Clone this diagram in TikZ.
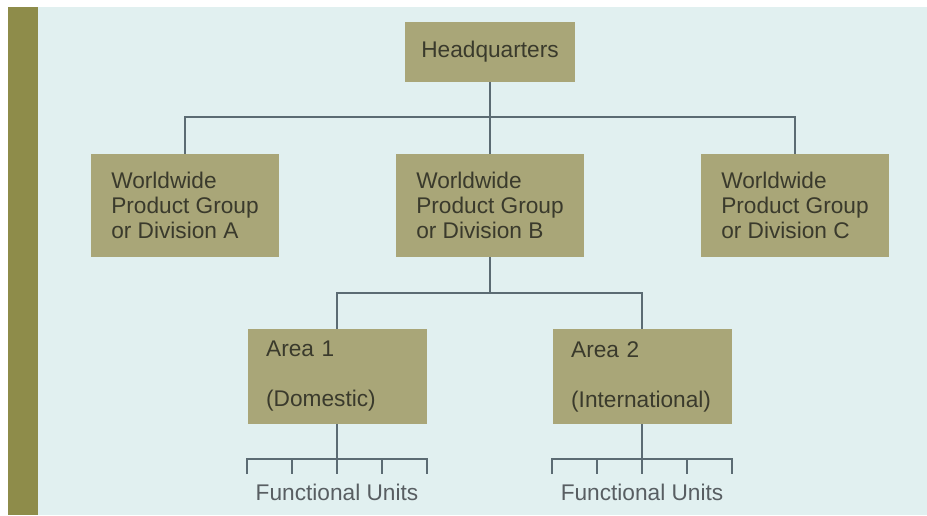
\documentclass[tikz,border=0pt]{standalone}
\usepackage{fontspec}
\setmainfont{Liberation Sans}
\definecolor{bgblue}{HTML}{E1F0F0}
\definecolor{barolive}{HTML}{8E8C4A}
\definecolor{boxolive}{HTML}{A9A678}
\definecolor{boxtext}{HTML}{3A3A2C}
\definecolor{linegrey}{HTML}{5B6B73}
\definecolor{futext}{HTML}{585E62}
\begin{document}
\begin{tikzpicture}[x=0.75pt,y=-0.75pt,
  orgbox/.style={fill=boxolive,draw=none,text=boxtext,font=\fontsize{17}{19}\selectfont,inner sep=0pt},
  divbox/.style={orgbox,minimum width=141pt,minimum height=77.25pt,align=left},
  areabox/.style={orgbox,minimum height=71.25pt,text width=106.25pt,inner xsep=14pt,align=left},
  conn/.style={draw=linegrey,line width=1.5pt},
  fulabel/.style={text=futext,font=\fontsize{17}{19}\selectfont,inner sep=0pt}]
\useasboundingbox (0,0) rectangle (927,515);
\fill[white] (0,0) rectangle (927,515);
\fill[bgblue] (38,7) rectangle (927,515);
\fill[barolive] (8,7) rectangle (38,515);

\node[orgbox,minimum width=127.5pt,minimum height=45pt] (hq) at (490,52) {Headquarters};
\node[divbox] (divA) at (185,205.5) {Worldwide\\Product Group\\or Division A};
\node[divbox] (divB) at (490,205.5) {Worldwide\\Product Group\\or Division B};
\node[divbox] (divC) at (795,205.5) {Worldwide\\Product Group\\or Division C};
\node[areabox] (ar1) at (337,376.5) {Area 1\\[18.5pt](Domestic)};
\node[areabox] (ar2) at (642,376.5) {Area 2\\[18.5pt](International)};

\coordinate (bus1) at (490,117);
\coordinate (bus2) at (490,293);
\draw[conn] (hq.south) -- (divB.north);
\draw[conn] (divA.north) -- (divA.north |- bus1) -- (divC.north |- bus1) -- (divC.north);
\draw[conn] (divB.south) -- (bus2);
\draw[conn] (ar1.north) -- (ar1.north |- bus2) -- (ar2.north |- bus2) -- (ar2.north);

% functional units under Area 1
\coordinate (fa) at (247,459);
\coordinate (fb) at (427,459);
\draw[conn] (ar1.south) -- (ar1.south |- fa);
\draw[conn] (fa) ++(0,15) coordinate (fat) -- (fa) -- (fb) -- ++(0,15) coordinate (fbt);
\foreach \xx in {292,337,382} \draw[conn] (\xx,459) -- (\xx,474);
\node[fulabel] (fu1) at (337,492) {Functional Units};

% functional units under Area 2
\coordinate (ga) at (552,459);
\coordinate (gb) at (732,459);
\draw[conn] (ar2.south) -- (ar2.south |- ga);
\draw[conn] (ga) ++(0,15) coordinate (gat) -- (ga) -- (gb) -- ++(0,15) coordinate (gbt);
\foreach \xx in {597,642,687} \draw[conn] (\xx,459) -- (\xx,474);
\node[fulabel] (fu2) at (642,492) {Functional Units};
\end{tikzpicture}
\end{document}
